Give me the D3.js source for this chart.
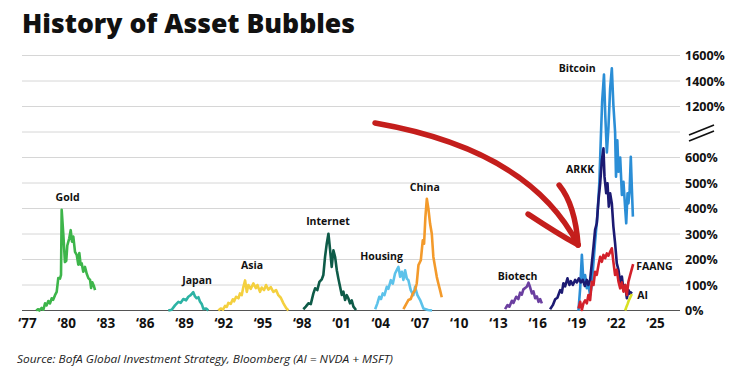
<!DOCTYPE html>
<html>
<head>
<meta charset="utf-8">
<script src="https://cdn.jsdelivr.net/npm/d3@7"></script>
<style>
  body { margin: 0; background: #fff; }
  svg { display: block; font-family: "Open Sans", Lato, sans-serif; }
</style>
</head>
<body>
<div id="chart"></div>
<script>
// bubble series: [year, gain %]
const gold = [[1977.7,0],[1977.86,5],[1977.95,-2],[1978.12,10],[1978.25,3],[1978.38,28],[1978.5,20],[1978.63,37],[1978.76,28],[1978.89,48],[1979.0,42],[1979.14,60],[1979.27,73],[1979.39,127],[1979.52,125],[1979.6,140],[1979.65,395],[1979.78,295],[1979.9,190],[1980.0,195],[1980.08,255],[1980.23,283],[1980.34,315],[1980.44,270],[1980.54,290],[1980.67,230],[1980.8,218],[1980.92,180],[1981.0,225],[1981.1,180],[1981.18,185],[1981.3,152],[1981.43,171],[1981.56,145],[1981.69,127],[1981.82,120],[1981.9,88],[1981.99,111],[1982.12,95],[1982.2,80]];
const japan = [[1987.8,0],[1988.06,3],[1988.31,20],[1988.57,34],[1988.75,30],[1988.95,45],[1989.16,40],[1989.33,54],[1989.51,60],[1989.71,72],[1989.84,55],[1989.97,48],[1990.1,52],[1990.23,34],[1990.36,25],[1990.48,6],[1990.69,8],[1990.86,0]];
const asia = [[1991.62,0],[1991.81,8],[1991.98,3],[1992.14,18],[1992.27,14],[1992.39,30],[1992.57,26],[1992.73,44],[1992.83,36],[1992.98,54],[1993.16,48],[1993.28,67],[1993.41,60],[1993.54,93],[1993.67,118],[1993.8,73],[1993.92,100],[1994.1,85],[1994.3,106],[1994.49,88],[1994.61,100],[1994.81,73],[1994.94,90],[1995.12,80],[1995.27,100],[1995.45,82],[1995.63,92],[1995.83,73],[1996.04,80],[1996.21,60],[1996.4,50],[1996.6,28],[1996.8,10],[1996.98,0]];
const internet = [[1998.12,5],[1998.31,15],[1998.51,28],[1998.69,25],[1998.89,67],[1999.02,87],[1999.19,80],[1999.35,112],[1999.53,122],[1999.65,139],[1999.78,210],[1999.91,262],[2000.04,301],[2000.17,236],[2000.29,171],[2000.42,236],[2000.55,210],[2000.68,158],[2000.8,125],[2000.93,93],[2001.06,61],[2001.18,74],[2001.31,41],[2001.44,60],[2001.56,48],[2001.69,28],[2001.82,40],[2001.95,15],[2002.15,2]];
const housing = [[2003.61,5],[2003.78,28],[2003.93,54],[2004.06,45],[2004.19,67],[2004.32,60],[2004.5,93],[2004.62,85],[2004.81,119],[2004.96,105],[2005.13,145],[2005.26,158],[2005.39,171],[2005.52,132],[2005.65,152],[2005.77,120],[2005.9,158],[2006.03,125],[2006.15,119],[2006.33,80],[2006.53,60],[2006.66,93],[2006.84,60],[2007.05,41],[2007.3,8],[2007.66,2],[2007.96,0]];
const china = [[2005.77,5],[2005.98,25],[2006.15,41],[2006.33,45],[2006.49,67],[2006.66,80],[2006.79,106],[2006.92,178],[2007.1,197],[2007.25,275],[2007.35,262],[2007.45,366],[2007.56,438],[2007.68,399],[2007.81,340],[2007.94,301],[2008.06,210],[2008.19,171],[2008.32,132],[2008.44,106],[2008.57,80],[2008.7,52]];
const biotech = [[2013.54,5],[2013.72,21],[2013.87,15],[2014.06,38],[2014.18,30],[2014.39,54],[2014.56,45],[2014.69,70],[2014.82,62],[2014.94,83],[2015.2,93],[2015.33,109],[2015.46,90],[2015.59,67],[2015.71,75],[2015.84,48],[2015.97,55],[2016.1,34],[2016.22,45],[2016.35,28]];
const bitcoin = [[2019.15,0],[2019.28,87],[2019.41,218],[2019.53,113],[2019.66,139],[2019.79,87],[2019.91,100],[2020.04,61],[2020.17,100],[2020.3,191],[2020.42,270],[2020.6,374],[2020.75,505],[2020.86,677],[2020.96,1238],[2021.1,1450],[2021.2,1130],[2021.32,620],[2021.44,1030],[2021.57,1340],[2021.7,1500],[2021.82,1210],[2021.95,760],[2022.02,525],[2022.12,667],[2022.21,544],[2022.34,600],[2022.47,453],[2022.59,505],[2022.72,401],[2022.8,342],[2022.9,460],[2022.97,420],[2023.06,470],[2023.15,603],[2023.23,480],[2023.31,368]];
const arkk = [[2016.98,5],[2017.19,21],[2017.37,44],[2017.54,50],[2017.75,80],[2017.88,70],[2018.0,107],[2018.13,95],[2018.31,126],[2018.46,100],[2018.57,115],[2018.72,100],[2018.9,120],[2019.03,110],[2019.18,126],[2019.33,110],[2019.48,120],[2019.64,96],[2019.79,120],[2019.91,100],[2020.04,120],[2020.17,185],[2020.3,250],[2020.42,316],[2020.55,342],[2020.68,433],[2020.81,499],[2020.94,590],[2021.06,636],[2021.14,525],[2021.27,460],[2021.37,499],[2021.47,407],[2021.57,460],[2021.7,420],[2021.82,329],[2021.95,264],[2022.08,185],[2022.21,159],[2022.34,107],[2022.47,133],[2022.59,80],[2022.72,100],[2022.85,48],[2022.97,80],[2023.1,65],[2023.23,74]];
const faang = [[2019.15,8],[2019.28,34],[2019.41,2],[2019.53,28],[2019.66,40],[2019.79,28],[2019.91,61],[2020.04,41],[2020.17,113],[2020.3,100],[2020.42,152],[2020.55,140],[2020.68,178],[2020.81,211],[2020.94,191],[2021.06,218],[2021.19,205],[2021.32,224],[2021.44,215],[2021.57,230],[2021.7,244],[2021.82,191],[2021.95,139],[2022.08,160],[2022.21,113],[2022.34,87],[2022.47,110],[2022.59,74],[2022.72,100],[2022.85,61],[2022.97,113],[2023.1,139],[2023.33,182]];
const ai = [[2022.72,0],[2022.82,15],[2022.9,25],[2023.0,40],[2023.1,50],[2023.23,65]];

// series name, data, colour, label anchor [year, value]
const series = [
  { name: "Gold", data: gold, color: "#3db54a", label: [1980.1, 445] },
  { name: "Japan", data: japan, color: "#2db3a4", label: [1990.0, 120] },
  { name: "Asia", data: asia, color: "#f4d03f", label: [1994.2, 178] },
  { name: "Internet", data: internet, color: "#0e5b48", label: [2000.0, 348] },
  { name: "Housing", data: housing, color: "#5cc2ea", label: [2004.1, 214] },
  { name: "China", data: china, color: "#f39a2b", label: [2007.4, 484] },
  { name: "Biotech", data: biotech, color: "#6b3fa0", label: [2014.5, 135] },
  { name: "Bitcoin", data: bitcoin, color: "#2b8ed6", label: [2019.05, 1500] },
  { name: "ARKK", data: arkk, color: "#1c1a72", label: [2019.28, 555] },
  { name: "FAANG", data: faang, color: "#d3202a", label: [2023.56, 175], anchor: "start" },
  { name: "AI", data: ai, color: "#d9e021", label: [2023.64, 60], anchor: "start" }
];

const xTicks = d3.range(1977, 2026, 3);
const yTicks = [0, 100, 200, 300, 400, 500, 600, 1200, 1400, 1600];
const breakValue = 700;

const width = 740, height = 377;

const svg = d3.select("#chart").append("svg")
  .attr("width", width)
  .attr("height", height);

const x = d3.scaleLinear().domain([1977, 2025]).range([27, 655]);
// broken axis: 0-700 linear, 700-1000 collapsed onto the break line, 1000-1600 compressed
const y = d3.scaleLinear().domain([0, 700, 1000, 1600]).range([310.5, 132, 132, 55.5]);

// title
svg.append("text")
  .attr("x", 22).attr("y", 33)
  .attr("font-size", 27).attr("font-weight", 800)
  .attr("fill", "#111")
  .attr("textLength", 333).attr("lengthAdjust", "spacingAndGlyphs")
  .text("History of Asset Bubbles");

// gridlines
svg.append("g").selectAll("line")
  .data(yTicks.filter(d => d > 0).concat([breakValue]))
  .enter().append("line")
  .attr("x1", 22).attr("x2", 680)
  .attr("y1", d => y(d)).attr("y2", d => y(d))
  .attr("stroke", "#d6d6d6").attr("stroke-width", 1);

// y labels on the right
svg.append("g").selectAll("text")
  .data(yTicks)
  .enter().append("text")
  .attr("x", 685).attr("y", d => y(d))
  .attr("dy", "0.36em")
  .attr("font-size", 12.5).attr("font-weight", 700)
  .attr("fill", "#111")
  .text(d => d + "%");

// break marker
svg.append("g").selectAll("line")
  .data([0, 6])
  .enter().append("line")
  .attr("x1", 689).attr("x2", 714)
  .attr("y1", d => y(breakValue) + 3 + d).attr("y2", d => y(breakValue) - 7 + d)
  .attr("stroke", "#111").attr("stroke-width", 1.6);

// x axis
const xAxis = svg.append("g")
  .attr("transform", `translate(0,${y(0)})`)
  .call(d3.axisBottom(x).tickValues(xTicks).tickSize(0).tickPadding(8)
    .tickFormat(d => "\u2018" + String(d).slice(2)));
xAxis.select(".domain").attr("d", "M22,0H680").attr("stroke", "#555").attr("stroke-width", 1.2);
xAxis.selectAll("text")
  .attr("font-family", "'Open Sans', sans-serif")
  .attr("font-size", 13.5).attr("font-weight", 700)
  .attr("fill", "#111");

// arrow annotation
const arrow = { from: [2003.6, 1070], ctrl: [2015.45, 629], to: [2019.12, 257] };
const px = p => [x(p[0]), y(p[1])];
const arrowPath = d3.path();
arrowPath.moveTo(...px(arrow.from));
arrowPath.quadraticCurveTo(...px(arrow.ctrl), ...px(arrow.to));
const barbLeft = d3.path();
barbLeft.moveTo(...px([2015.3, 378]));
barbLeft.quadraticCurveTo(...px([2017.6, 300]), ...px(arrow.to));
const barbTop = d3.path();
barbTop.moveTo(...px([2017.67, 492]));
barbTop.quadraticCurveTo(...px([2018.9, 414]), ...px(arrow.to));
svg.append("g").selectAll("path")
  .data([arrowPath, barbLeft, barbTop])
  .enter().append("path")
  .attr("d", d => d.toString())
  .attr("fill", "none")
  .attr("stroke", "#c41e1c")
  .attr("stroke-width", 5.5)
  .attr("stroke-linecap", "round")
  .attr("stroke-linejoin", "round");

// series lines
const line = d3.line().x(d => x(d[0])).y(d => y(Math.max(0, d[1])));
svg.append("g").selectAll("path")
  .data(series)
  .enter().append("path")
  .attr("d", d => line(d.data))
  .attr("fill", "none")
  .attr("stroke", d => d.color)
  .attr("stroke-width", 2.6)
  .attr("stroke-linejoin", "round");

// series labels
svg.append("g").selectAll("text")
  .data(series)
  .enter().append("text")
  .attr("x", d => x(d.label[0]))
  .attr("y", d => y(d.label[1]))
  .attr("dy", "0.35em")
  .attr("text-anchor", d => d.anchor || "middle")
  .attr("font-size", 10.5).attr("font-weight", 700)
  .attr("fill", "#111")
  .text(d => d.name);

// source
svg.append("text")
  .attr("x", 17).attr("y", 363)
  .attr("font-size", 10.5).attr("font-style", "italic")
  .attr("fill", "#222")
  .attr("textLength", 376).attr("lengthAdjust", "spacingAndGlyphs")
  .text("Source: BofA Global Investment Strategy, Bloomberg (AI = NVDA + MSFT)");
</script>
</body>
</html>
